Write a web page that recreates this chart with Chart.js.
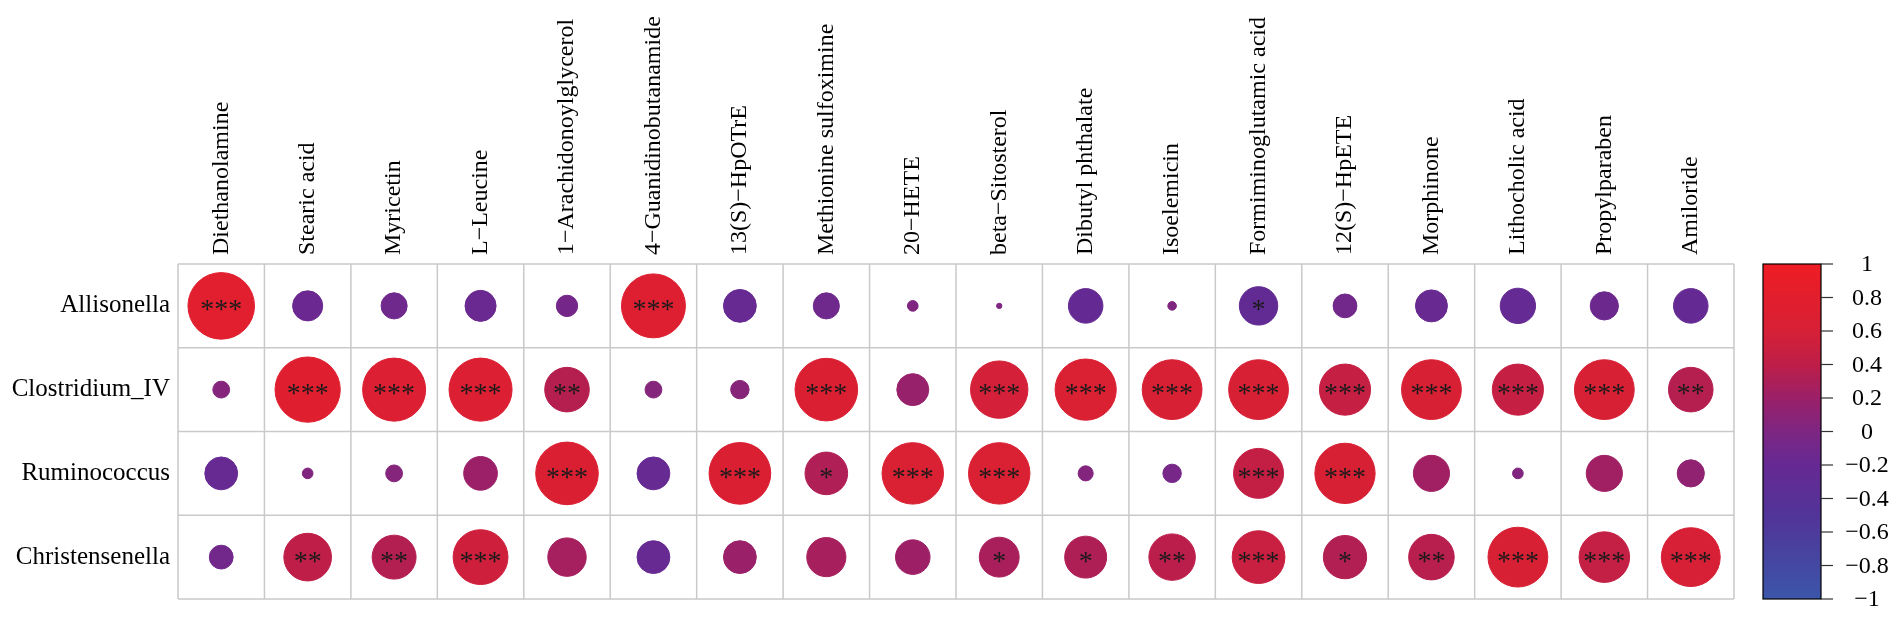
<!DOCTYPE html>
<html>
<head>
<meta charset="utf-8">
<script src="https://cdn.jsdelivr.net/npm/chart.js@4.4.1/dist/chart.umd.min.js"></script>
<style>
  html, body { margin: 0; padding: 0; background: #fff; }
  #wrap { width: 1902px; height: 622px; }
</style>
</head>
<body>
<div id="wrap"><canvas id="corr" width="1902" height="622"></canvas></div>
<script>
// genera (rows) and metabolites (columns)
const genera = ['Allisonella', 'Clostridium_IV', 'Ruminococcus', 'Christensenella'];
const metabolites = [
  'Diethanolamine', 'Stearic acid', 'Myricetin', 'L\u2212Leucine',
  '1\u2212Arachidonoylglycerol', '4\u2212Guanidinobutanamide', '13(S)\u2212HpOTrE',
  'Methionine sulfoximine', '20\u2212HETE', 'beta\u2212Sitosterol', 'Dibutyl phthalate',
  'Isoelemicin', 'Formiminoglutamic acid', '12(S)\u2212HpETE', 'Morphinone',
  'Lithocholic acid', 'Propylparaben', 'Amiloride'
];

// correlation coefficients
const rAllisonella     = [0.78, -0.16, -0.12, -0.17, -0.08, 0.72, -0.19, -0.12, 0.02, 0.005, -0.21, 0.013, -0.26, -0.10, -0.18, -0.22, -0.14, -0.21];
const rClostridium     = [0.05, 0.75, 0.70, 0.70, 0.35, 0.05, 0.06, 0.69, 0.18, 0.58, 0.66, 0.63, 0.63, 0.46, 0.63, 0.46, 0.63, 0.35];
const rRuminococcus    = [-0.19, 0.02, 0.05, 0.20, 0.69, -0.19, 0.67, 0.32, 0.665, 0.665, 0.04, -0.06, 0.44, 0.64, 0.23, 0.02, 0.23, 0.13];
const rChristensenella = [-0.10, 0.40, 0.34, 0.53, 0.26, -0.19, 0.19, 0.27, 0.21, 0.28, 0.31, 0.38, 0.49, 0.33, 0.365, 0.63, 0.45, 0.61];

// significance marks
const sigAllisonella     = ['***', '', '', '', '', '***', '', '', '', '', '', '', '*', '', '', '', '', ''];
const sigClostridium     = ['', '***', '***', '***', '**', '', '', '***', '', '***', '***', '***', '***', '***', '***', '***', '***', '**'];
const sigRuminococcus    = ['', '', '', '', '***', '', '***', '*', '***', '***', '', '', '***', '***', '', '', '', ''];
const sigChristensenella = ['', '**', '**', '***', '', '', '', '', '', '*', '*', '**', '***', '*', '**', '***', '***', '***'];

const colorbarTicks = [1, 0.8, 0.6, 0.4, 0.2, 0, -0.2, -0.4, -0.6, -0.8, -1];

const rValues = [rAllisonella, rClostridium, rRuminococcus, rChristensenella];
const sigValues = [sigAllisonella, sigClostridium, sigRuminococcus, sigChristensenella];

const colorStops = [
  [-1, [59, 86, 168]],
  [-0.5, [82, 52, 152]],
  [-0.2, [102, 41, 147]],
  [0, [125, 38, 130]],
  [0.2, [155, 32, 104]],
  [0.4, [190, 30, 72]],
  [0.6, [214, 32, 54]],
  [1, [238, 29, 36]],
];

function corrColor(v) {
  for (let i = 1; i < colorStops.length; i++) {
    const [v1, c1] = colorStops[i];
    const [v0, c0] = colorStops[i - 1];
    if (v <= v1) {
      const t = (v - v0) / (v1 - v0);
      const c = c0.map((a, k) => Math.round(a + (c1[k] - a) * t));
      return `rgb(${c[0]},${c[1]},${c[2]})`;
    }
  }
  const c = colorStops[colorStops.length - 1][1];
  return `rgb(${c[0]},${c[1]},${c[2]})`;
}

const points = [];
genera.forEach((g, i) => {
  metabolites.forEach((m, j) => {
    points.push({ x: j, y: i, v: rValues[i][j], s: sigValues[i][j] });
  });
});

const SERIF = '"Liberation Serif", "Times New Roman", serif';

const corrDecor = {
  id: 'corrDecor',
  beforeDatasetsDraw(chart) {
    const { ctx, chartArea: a, scales: { x, y } } = chart;
    ctx.save();
    // cell grid
    ctx.strokeStyle = '#c9c9c9';
    ctx.lineWidth = 1.5;
    for (let j = 0; j <= metabolites.length; j++) {
      const px = x.getPixelForValue(j - 0.5);
      ctx.beginPath(); ctx.moveTo(px, a.top); ctx.lineTo(px, a.bottom); ctx.stroke();
    }
    for (let i = 0; i <= genera.length; i++) {
      const py = y.getPixelForValue(i - 0.5);
      ctx.beginPath(); ctx.moveTo(a.left, py); ctx.lineTo(a.right, py); ctx.stroke();
    }
    // row labels
    ctx.fillStyle = '#000';
    ctx.font = `25px ${SERIF}`;
    ctx.textAlign = 'right';
    ctx.textBaseline = 'middle';
    genera.forEach((g, i) => ctx.fillText(g, a.left - 8, y.getPixelForValue(i)));
    // column labels (vertical)
    ctx.font = `24px ${SERIF}`;
    ctx.textAlign = 'left';
    metabolites.forEach((m, j) => {
      ctx.save();
      ctx.translate(x.getPixelForValue(j), a.top - 9);
      ctx.rotate(-Math.PI / 2);
      ctx.fillText(m, 0, 0);
      ctx.restore();
    });
    ctx.restore();
  },
  afterDatasetsDraw(chart) {
    const { ctx, chartArea: a } = chart;
    const meta = chart.getDatasetMeta(0);
    ctx.save();
    // significance stars
    ctx.fillStyle = '#1a1a1a';
    ctx.font = `28px ${SERIF}`;
    ctx.textAlign = 'center';
    ctx.textBaseline = 'alphabetic';
    meta.data.forEach((el, k) => {
      const s = points[k].s;
      if (!s) return;
      const mt = ctx.measureText(s);
      const off = (mt.actualBoundingBoxAscent - mt.actualBoundingBoxDescent) / 2;
      ctx.fillText(s, el.x, el.y + off);
    });
    // colour bar
    const cbL = 1763, cbR = 1821;
    const cbY = v => a.bottom - (v + 1) / 2 * (a.bottom - a.top);
    const grad = ctx.createLinearGradient(0, cbY(-1), 0, cbY(1));
    colorStops.forEach(([v]) => grad.addColorStop((v + 1) / 2, corrColor(v)));
    ctx.fillStyle = grad;
    ctx.fillRect(cbL, a.top, cbR - cbL, a.bottom - a.top);
    ctx.strokeStyle = '#000';
    ctx.lineWidth = 1.2;
    ctx.strokeRect(cbL, a.top, cbR - cbL, a.bottom - a.top);
    ctx.strokeStyle = '#333';
    ctx.fillStyle = '#000';
    ctx.font = `24px ${SERIF}`;
    ctx.textAlign = 'center';
    ctx.textBaseline = 'middle';
    colorbarTicks.forEach(v => {
      const py = cbY(v);
      ctx.beginPath(); ctx.moveTo(cbR, py); ctx.lineTo(cbR + 12, py); ctx.stroke();
      const lab = v < 0 ? '\u2212' + String(-v) : String(v);
      ctx.fillText(lab, 1867, py + 1);
    });
    ctx.restore();
  }
};

new Chart(document.getElementById('corr'), {
  type: 'scatter',
  data: {
    datasets: [{
      data: points,
      showLine: false,
      pointRadius: c => {
        const area = c.chart.chartArea;
        if (!area || !c.raw) return 0;
        const cellH = (area.bottom - area.top) / genera.length;
        return 0.45 * Math.sqrt(Math.abs(c.raw.v)) * cellH;
      },
      pointBackgroundColor: c => (c.raw ? corrColor(c.raw.v) : '#000'),
      pointBorderColor: c => (c.raw ? corrColor(c.raw.v) : '#000'),
      pointBorderWidth: 1,
    }],
  },
  options: {
    responsive: false,
    animation: false,
    events: [],
    layout: { padding: { left: 178, right: 168, top: 264, bottom: 23 } },
    scales: {
      x: { type: 'linear', min: -0.5, max: 17.5, display: false },
      y: { type: 'linear', min: -0.5, max: 3.5, reverse: true, display: false },
    },
    plugins: { legend: { display: false }, tooltip: { enabled: false } },
  },
  plugins: [corrDecor],
});
</script>
</body>
</html>
